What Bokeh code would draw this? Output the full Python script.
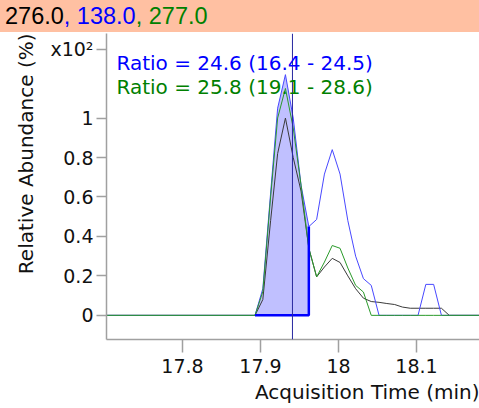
from bokeh.plotting import figure
from bokeh.models import Span, Label, FixedTicker, Div, Title
from bokeh.layouts import column
from bokeh.embed import file_html
from bokeh.resources import INLINE

# ---------------- data ----------------
header_masses = ["276.0", "138.0", "277.0"]
header_colors = ["#000000", "#0000FF", "#008000"]

time = [17.700, 17.893, 17.903, 17.913, 17.922, 17.932, 17.942, 17.952, 17.962,
        17.972, 17.982, 17.992, 18.002, 18.012, 18.022, 18.032, 18.042, 18.052,
        18.062, 18.072, 18.082, 18.092, 18.102, 18.112, 18.122, 18.132, 18.142, 18.200]
blue = [0, 0, 0.135, 0.62, 1.05, 1.22, 1.00, 0.66, 0.45,
        0.486, 0.716, 0.84, 0.716, 0.48, 0.30, 0.186, 0.152, 0,
        0, 0, 0, 0, 0, 0.157, 0.157, 0, 0, 0]
green = [0, 0, 0.12, 0.60, 1.00, 1.15, 0.95, 0.66, 0.34,
         0.195, 0.27, 0.354, 0.34, 0.24, 0.152, 0.118, 0, 0,
         0, 0, 0, 0, 0, 0, 0, 0, 0, 0]
black = [0, 0, 0.08, 0.48, 0.82, 1.00, 0.80, 0.63, 0.34,
         0.195, 0.245, 0.289, 0.268, 0.20, 0.135, 0.087, 0.07, 0.066,
         0.06, 0.055, 0.042, 0.036, 0.036, 0.036, 0.036, 0.036, 0, 0]

integ_start = 17.893
integ_end = 17.962
rt_marker = 17.941

ratio_texts = ["Ratio = 24.6 (16.4 - 24.5)", "Ratio = 25.8 (19.1 - 28.6)"]
ratio_colors = ["#0000FF", "#008000"]

x_ticks = [17.8, 17.9, 18.0, 18.1]
x_tick_labels = ["17.8", "17.9", "18", "18.1"]
y_ticks = [0, 0.2, 0.4, 0.6, 0.8, 1.0]
y_tick_labels = ["0", "0.2", "0.4", "0.6", "0.8", "1"]
y_scale_tick = 1.35
y_scale_text = "x10\u00b2"

x_title = "Acquisition Time (min)"
y_title = "Relative Abundance (%)"

FONT = "DejaVu Sans"

# ---------------- header ----------------
spans = []
for i, (m, c) in enumerate(zip(header_masses, header_colors)):
    sep = "" if i == 0 else ", "
    spans.append('<span style="color:%s">%s%s</span>' % (c, sep, m))
header_html = ('<div style="font-family:\'Liberation Sans\',sans-serif;font-size:23.5px;'
               'line-height:32px;padding-left:5px;white-space:nowrap;">' + "".join(spans) + '</div>')
header = Div(text=header_html, width=479, height=32,
             styles={"background-color": "#FFC0A2", "margin": "0", "padding": "0"})

# ---------------- figure ----------------
p = figure(width=479, height=376, x_range=(17.7026, 18.1808), y_range=(-0.1224, 1.4286),
           output_backend="svg", toolbar_location=None,
           min_border_left=106, min_border_right=0, min_border_top=1, min_border_bottom=69)
p.outline_line_color = None
p.grid.visible = False
p.background_fill_color = "white"
p.border_fill_color = "white"

# integration fill
idx = [i for i, t in enumerate(time) if integ_start - 1e-9 <= t <= integ_end + 1e-9]
fx = [time[i] for i in idx]
fy = [blue[i] for i in idx]
p.varea(x=fx, y1=[0] * len(fx), y2=fy, fill_color="#C0C0FF", fill_alpha=1.0)

p.line(time, black, line_color="#3A3A3A", line_width=1)
p.line(time, blue, line_color="#4848FF", line_width=1)
p.line(time, green, line_color="#2A9A2A", line_width=1)

# bold integration border
p.line([fx[0], fx[-1], fx[-1]], [0, 0, fy[-1]], line_color="#0000FF", line_width=2.5)

p.add_layout(Span(location=rt_marker, dimension="height", line_color="#2828A0", line_width=1))

for k, (txt, col) in enumerate(zip(ratio_texts, ratio_colors)):
    p.add_layout(Label(x=17.7154, y=[1.2776, 1.1566][k], text=txt, text_color=col,
                       text_font=FONT, text_font_size="20px", text_baseline="alphabetic"))

# axes
for ax in (p.xaxis[0], p.yaxis[0]):
    ax.axis_line_color = "#A0A0A0"
    ax.axis_line_width = 1.5
    ax.major_tick_line_color = "#A0A0A0"
    ax.major_tick_line_width = 1.5
    ax.major_tick_in = 0
    ax.minor_tick_line_color = None
    ax.major_label_text_font = FONT
    ax.major_label_text_font_size = "19px"
    ax.major_label_text_color = "#111111"

p.xaxis.ticker = FixedTicker(ticks=x_ticks)
p.xaxis.major_label_overrides = dict(zip(x_ticks, x_tick_labels))
p.xaxis.major_tick_out = 13
p.xaxis.major_label_standoff = 6

yt = y_ticks + [y_scale_tick]
yl = y_tick_labels + [y_scale_text]
p.yaxis.ticker = FixedTicker(ticks=yt)
p.yaxis.major_label_overrides = dict(zip(yt, yl))
p.yaxis.major_tick_out = 10
p.yaxis.major_label_standoff = 3

# axis titles (Title models give end alignment)
p.add_layout(Title(text=x_title, align="right", standoff=4, text_font=FONT,
                   text_font_size="20px", text_font_style="normal", text_color="#111111"), "below")
p.add_layout(Title(text=y_title, align="right", standoff=20, text_font=FONT,
                   text_font_size="20px", text_font_style="normal", text_color="#111111"), "left")

layout = column(header, p, spacing=0)

open("out.html", "w").write(file_html(layout, INLINE))
